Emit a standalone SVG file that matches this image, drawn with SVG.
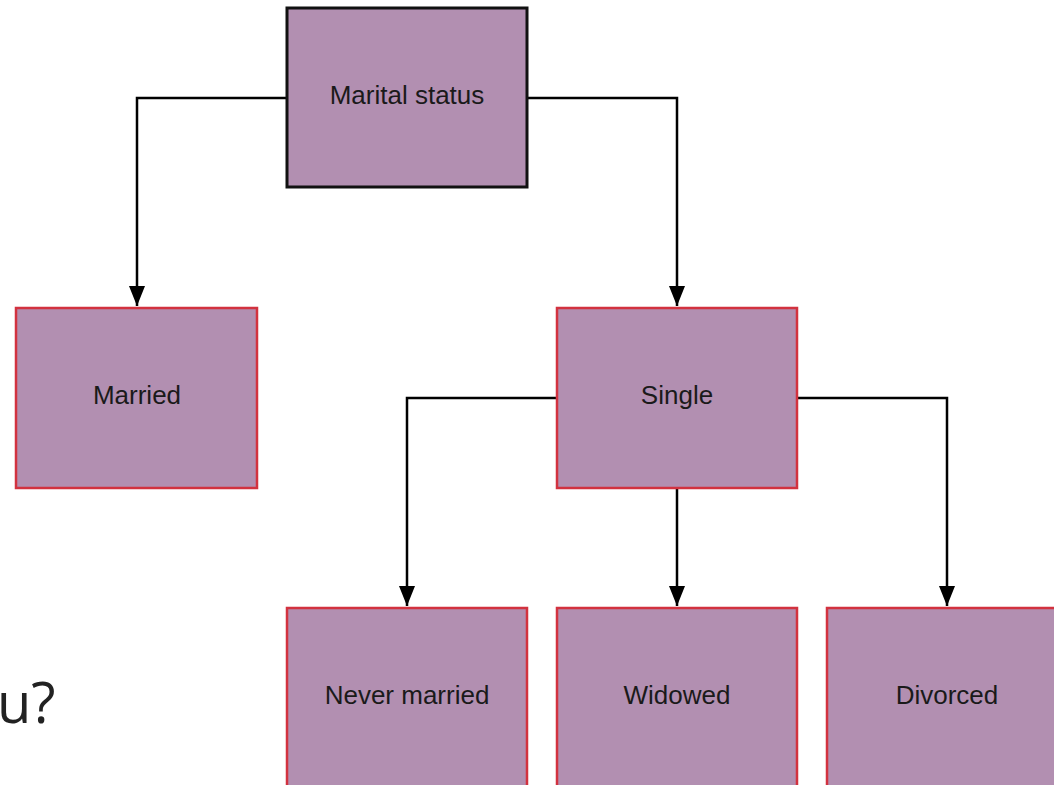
<svg xmlns="http://www.w3.org/2000/svg" width="1054" height="785" viewBox="0 0 1054 785">
<style>
.box{fill:#b28fb1;stroke:#d2323f;stroke-width:2.5}
.root{fill:#b28fb1;stroke:#111;stroke-width:3}
.lbl{font-family:"Liberation Sans",Arial,sans-serif;font-size:26px;fill:#1a1a1a;text-anchor:middle}
.edge{fill:none;stroke:#000;stroke-width:2.5}
</style>
<defs>
<marker id="arr" viewBox="0 0 20 16" refX="20" refY="8" markerWidth="20" markerHeight="16" markerUnits="userSpaceOnUse" orient="auto">
<path d="M0,0 L20,8 L0,16 Z" fill="#000"/>
</marker>
</defs>
<rect width="1054" height="785" fill="#fff"/>
<g id="connectors">
<path class="edge" d="M287,98 H137 V306" marker-end="url(#arr)"/>
<path class="edge" d="M527,98 H677 V306" marker-end="url(#arr)"/>
<path class="edge" d="M557,398 H407 V606" marker-end="url(#arr)"/>
<path class="edge" d="M677,488 V606" marker-end="url(#arr)"/>
<path class="edge" d="M797,398 H947 V606" marker-end="url(#arr)"/>
</g>
<g id="marital"><rect class="root" x="287" y="8" width="240" height="179"/><text class="lbl" x="407" y="104">Marital status</text></g>
<g id="married"><rect class="box" x="16" y="308" width="241" height="180"/><text class="lbl" x="137" y="404">Married</text></g>
<g id="single"><rect class="box" x="557" y="308" width="240" height="180"/><text class="lbl" x="677" y="404">Single</text></g>
<g id="never"><rect class="box" x="287" y="608" width="240" height="190"/><text class="lbl" x="407" y="704">Never married</text></g>
<g id="widowed"><rect class="box" x="557" y="608" width="240" height="190"/><text class="lbl" x="677" y="704">Widowed</text></g>
<g id="divorced"><rect class="box" x="827" y="608" width="240" height="190"/><text class="lbl" x="947" y="704">Divorced</text></g>
<text x="-3" y="723" font-family="'Open Sans',sans-serif" font-size="56" fill="#222">u?</text>
</svg>
